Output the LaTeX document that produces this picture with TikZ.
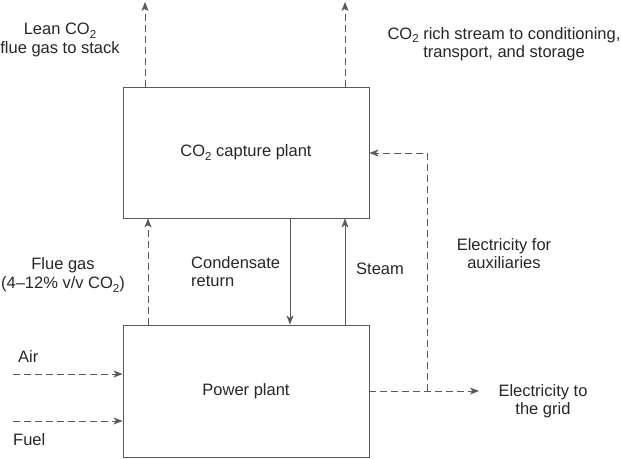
\documentclass[tikz,border=0pt]{standalone}
\usepackage{fontspec}
\setmainfont{Liberation Sans}
\usetikzlibrary{arrows.meta}
\newcommand\cotwo{CO\raisebox{-0.22em}[0pt][0pt]{\fontsize{11.5}{11.5}\selectfont 2}}
\begin{document}
\begin{tikzpicture}[x=1pt,y=-1pt,
  every node/.style={font=\fontsize{16.5}{18}\selectfont, text=black!85},
  box/.style={draw=black!65, line width=0.9pt, minimum width=246pt, inner sep=0pt},
  flow/.style={draw=black!65, line width=0.9pt, -{Stealth[length=9pt,width=7pt,inset=2.5pt]}},
  dflow/.style={flow, dash pattern=on 7pt off 4pt},
  lbl/.style={align=center, inner sep=0pt},
  lbll/.style={align=left, inner sep=0pt}]
\useasboundingbox (0,0) rectangle (621,458);
% boxes
\node[box, minimum height=131pt] (capture) at (246,152.5) {\cotwo{} capture plant};
\node[box, minimum height=132pt] (power) at (246,391) {Power plant};
% free-end coordinates
\coordinate (stack) at (145,2);
\coordinate (rich) at (345,2);
\coordinate (air) at (13,374);
\coordinate (fuel) at (13,421);
\coordinate (grid) at (479,391);
\coordinate (junc) at (427,391);
\coordinate (aux) at (427,153);
% outlets
\draw[dflow] (stack |- capture.north) -- (stack);
\draw[dflow] (rich |- capture.north) -- (rich);
% flue gas
\draw[dflow] (power.north -| 148,0) -- (capture.south -| 148,0);
% condensate and steam
\draw[flow] (capture.south -| 290,0) -- (power.north -| 290,0);
\draw[flow] (power.north -| 345,0) -- (capture.south -| 345,0);
% inputs
\draw[dflow] (air) -- (air -| power.west);
\draw[dflow] (fuel) -- (fuel -| power.west);
% electricity
\draw[dflow] (power.east |- grid) -- (grid);
\draw[dflow] (junc) -- (aux) -- (aux -| capture.east);
% labels
\node[lbl, font=\fontsize{16.5}{19}\selectfont] at (60,40) {Lean \cotwo\\flue gas to stack};
\node[lbl] at (504,44) {\cotwo{} rich stream to conditioning,\\transport, and storage};
\node[lbl, font=\fontsize{16.5}{19}\selectfont] at (63,275) {Flue gas\\(4--12\% v/v \cotwo)};
\node[lbll, anchor=west] at (191,272) {Condensate\\return};
\node[lbll, anchor=west] at (356,269) {Steam};
\node[lbl] at (504,254) {Electricity for\\auxiliaries};
\node[lbll, anchor=west] at (18,357) {Air};
\node[lbll, anchor=west] at (13,440) {Fuel};
\node[lbl] at (543,401) {Electricity to\\the grid};
\end{tikzpicture}
\end{document}
